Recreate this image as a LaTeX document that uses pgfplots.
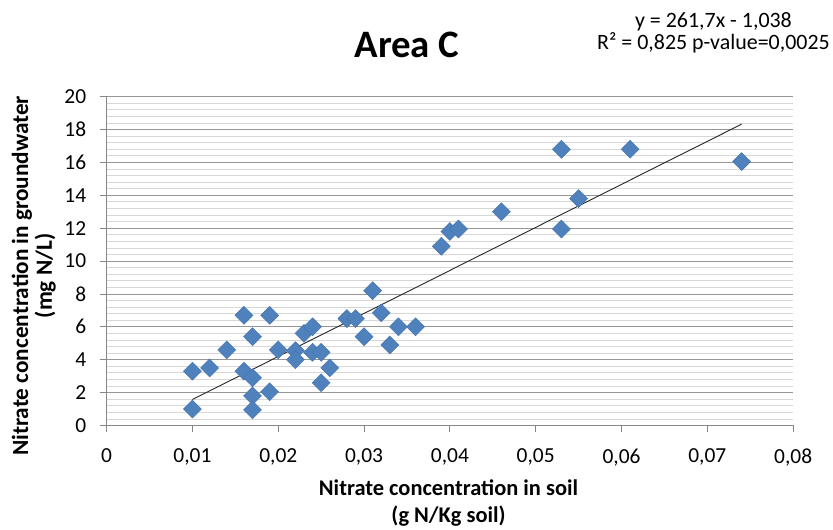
\documentclass[border=0pt]{standalone}
\usepackage{pgfplots}
\pgfplotsset{compat=1.18}
\usepackage{fontspec}
\setmainfont{Carlito}
\definecolor{ptblue}{RGB}{79,129,189}
\definecolor{majgrid}{RGB}{150,150,150}
\definecolor{mingrid}{RGB}{215,215,215}
\definecolor{axgray}{RGB}{134,134,134}
\pgfplotstableread{
x y
0.010 1.0
0.010 3.3
0.012 3.5
0.014 4.6
0.016 6.7
0.016 3.3
0.017 5.4
0.017 2.9
0.017 1.8
0.017 0.95
0.019 6.7
0.019 2.05
0.020 4.6
0.022 4.55
0.022 4.0
0.023 5.6
0.024 6.0
0.024 4.45
0.025 4.45
0.025 2.6
0.026 3.5
0.028 6.5
0.029 6.5
0.030 5.4
0.031 8.2
0.032 6.85
0.033 4.9
0.034 6.0
0.036 6.0
0.039 10.9
0.040 11.8
0.041 11.95
0.046 13.0
0.053 16.8
0.053 11.95
0.055 13.8
0.061 16.8
0.074 16.05
}\datatable
\begin{document}
\begin{tikzpicture}
\begin{axis}[
  scale only axis,
  width=689pt, height=330pt,
  at={(0pt,0pt)}, anchor=south west,
  xmin=0, xmax=0.08, ymin=0, ymax=20,
  axis lines*=left,
  axis line style={axgray, line width=0.8pt},
  xtick={0,0.01,0.02,0.03,0.04,0.05,0.06,0.07,0.08},
  xticklabels={0,{0,01},{0,02},{0,03},{0,04},{0,05},{0,06},{0,07},{0,08}},
  ytick={0,2,...,20},
  minor y tick num=4,
  tick align=outside,
  major tick length=7pt,
  minor tick length=0pt,
  tick style={axgray, line width=0.8pt},
  ymajorgrids, yminorgrids,
  major grid style={majgrid, line width=0.8pt},
  minor grid style={mingrid, line width=0.8pt},
  /pgf/number format/assume math mode=true,
  tick label style={font=\fontsize{21.5}{24}\selectfont},
  xticklabel style={yshift=-13pt},
  yticklabel style={xshift=-10pt},
  scaled x ticks=false,
  xlabel={Nitrate concentration in soil\\(g N/Kg soil)},
  xlabel style={font=\bfseries\fontsize{22.5}{27}\selectfont, align=center, at={(axis description cs:0.498,-0.236)}, anchor=center},
  ylabel={Nitrate concentration in groundwater\\(mg N/L)},
  ylabel style={font=\bfseries\fontsize{23.3}{24}\selectfont, align=center, at={(axis description cs:-0.106,0.455)}, anchor=center},
  clip=false,
]
\addplot[only marks, mark=square*, mark size=6.4pt, mark options={rotate=45, fill=ptblue, draw=ptblue!90!black, line width=0.4pt}] table[x=x,y=y] {\datatable};
\addplot[no marks, black!85, line width=0.9pt] coordinates {(0.010,1.579) (0.074,18.328)};
\end{axis}
\node[font=\bfseries\fontsize{39}{42}\selectfont] at (301.5pt,382pt) {Area C};
\node[font=\fontsize{22}{22}\selectfont, align=center] at (609pt,394.5pt) {y = 261,7x - 1,038\\R² = 0,825 p-value=0,0025};
\path[use as bounding box] (-107pt,-103pt) rectangle (726pt,427pt);
\end{tikzpicture}
\end{document}
